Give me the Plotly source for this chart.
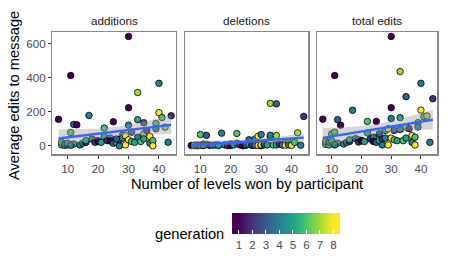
import numpy as np
import plotly.graph_objects as go
import plotly.colors as pc

# ---- data ----
levels = [7, 8, 8, 9, 9, 10, 10, 11, 11, 12, 12, 13, 14, 15, 16, 16, 17, 18, 19, 19,
          20, 20, 21, 22, 22, 23, 24, 24, 25, 25, 26, 27, 27, 28, 28, 29, 29, 30, 30, 30,
          30, 31, 31, 32, 33, 33, 33, 34, 35, 35, 35, 36, 37, 37, 38, 38, 39, 39, 40, 40,
          41, 42, 43, 44, 11, 26]
generation = [1, 5, 6, 6, 3, 6, 5, 1, 6, 3, 5, 1, 4, 4, 2, 5, 4, 4, 6, 2,
              3, 1, 5, 6, 5, 2, 4, 1, 1, 3, 5, 4, 2, 5, 4, 8, 8, 1, 1, 4,
              8, 6, 3, 5, 7, 5, 4, 6, 3, 7, 5, 2, 8, 4, 6, 8, 6, 4, 4, 8,
              6, 7, 4, 2, 4, 3]
additions = [155, 5, 20, 2, 10, 5, 15, 412, 78, 125, 10, 123, 5, 15, 20, 30, 178, 39, 30, 20,
             25, 30, 20, 104, 55, 30, 45, 28, 141, 15, 20, 0, 35, 60, 45, 60, 5, 641, 223, 121,
             35, 25, 80, 20, 312, 153, 50, 25, 135, 70, 40, 90, 55, 15, 30, 0, 131, 100, 366, 194,
             166, 109, 20, 176, 3, 40]
deletions = [2, 1, 3, 0, 5, 66, 3, 2, 10, 61, 8, 3, 3, 5, 4, 2, 74, 5, 3, 2,
             10, 2, 5, 72, 15, 5, 5, 0, 3, 5, 8, 2, 5, 40, 3, 56, 2, 0, 5, 66,
             5, 5, 10, 5, 249, 52, 62, 5, 246, 60, 5, 10, 5, 5, 20, 3, 20, 5, 5, 3,
             20, 76, 3, 172, 2, 35]
total_edits = [156, 8, 25, 5, 20, 70, 30, 412, 80, 153, 15, 121, 10, 20, 25, 35, 208, 42, 35, 22,
               30, 30, 25, 143, 75, 40, 50, 25, 143, 20, 30, 5, 40, 90, 45, 100, 5, 641, 223, 160,
               45, 35, 90, 30, 435, 165, 95, 30, 288, 110, 45, 100, 60, 20, 50, 5, 135, 110, 366, 209,
               170, 175, 20, 276, 5, 70]

facets = ["additions", "deletions", "total edits"]
tick_x = [10, 20, 30, 40]
tick_y = [0, 200, 400, 600]
gen_ticks = [1, 2, 3, 4, 5, 6, 7, 8]

W, H = 449, 269
panels_px = [(52.3, 175.7), (185.0, 308.3), (316.7, 437.3)]
top_px, bot_px = 32.0, 154.3

# viridis spread over 1..8 inside a bar that spans 0.5..8.5 (ends held flat)
vir = pc.sequential.Viridis
lo_f, hi_f = 0.5 / 8, 7.5 / 8
cscale = [[0.0, vir[0]]] + [[lo_f + k / (len(vir) - 1) * (hi_f - lo_f), c] for k, c in enumerate(vir)] + [[1.0, vir[-1]]]

fig = go.Figure()
font = "Liberation Sans, Arial, sans-serif"

series = [additions, deletions, total_edits]
x = np.array(levels, dtype=float)
for i, vals in enumerate(series):
    y = np.array(vals, dtype=float)
    ax = "" if i == 0 else str(i + 1)
    fig.add_trace(go.Scatter(
        x=levels, y=vals, mode="markers", xaxis="x" + ax, yaxis="y" + ax,
        marker=dict(size=6.5, color=generation, colorscale=cscale, cmin=0.5, cmax=8.5,
                    line=dict(color="black", width=0.8),
                    showscale=(i == 0),
                    colorbar=dict(orientation="h", x=286.2 / W, xanchor="center",
                                  y=1 - 213.3 / H, yanchor="top",
                                  len=107.7, lenmode="pixels", thickness=21,
                                  thicknessmode="pixels", xpad=0, ypad=0,
                                  outlinewidth=0, tickvals=gen_ticks,
                                  ticks="inside", ticklen=4, tickcolor="white",
                                  tickfont=dict(size=11.7, color="#4d4d4d", family=font))),
        showlegend=False, hoverinfo="skip"))
    # linear fit with 95% confidence band
    n = len(x)
    b, a = np.polyfit(x, y, 1)
    xs = np.linspace(x.min(), x.max(), 80)
    yhat = a + b * xs
    resid = y - (a + b * x)
    s = np.sqrt(np.sum(resid ** 2) / (n - 2))
    sxx = np.sum((x - x.mean()) ** 2)
    se = s * np.sqrt(1 / n + (xs - x.mean()) ** 2 / sxx)
    tval = 1.998
    lo, hi = yhat - tval * se, yhat + tval * se
    fig.add_trace(go.Scatter(
        x=np.concatenate([xs, xs[::-1]]), y=np.concatenate([hi, lo[::-1]]),
        fill="toself", fillcolor="rgba(153,153,153,0.4)", line=dict(width=0),
        mode="lines", xaxis="x" + ax, yaxis="y" + ax, showlegend=False, hoverinfo="skip"))
    fig.add_trace(go.Scatter(
        x=xs, y=yhat, mode="lines", line=dict(color="#3366FF", width=2.4),
        xaxis="x" + ax, yaxis="y" + ax, showlegend=False, hoverinfo="skip"))

ydom = [1 - bot_px / H, 1 - top_px / H]
layout = dict(template="none", width=W, height=H,
              margin=dict(l=0, r=0, t=0, b=0, pad=0, autoexpand=False),
              paper_bgcolor="white", plot_bgcolor="white", font=dict(family=font),
              hovermode=False)
for i, (l, r) in enumerate(panels_px):
    ax = "" if i == 0 else str(i + 1)
    layout["xaxis" + ax] = dict(domain=[l / W, r / W], range=[4.95, 45.5], anchor="y" + ax,
                                tickvals=tick_x, ticks="outside", ticklen=3, tickcolor="#333333",
                                showline=True, linecolor="#888888", linewidth=1.2, mirror=True,
                                showgrid=False, zeroline=False, automargin=False,
                                tickfont=dict(size=11.7, color="#4d4d4d"))
    layout["yaxis" + ax] = dict(domain=ydom, range=[-50, 667], anchor="x" + ax,
                                tickvals=tick_y, ticks="outside" if i == 0 else "",
                                ticklen=3, tickcolor="#333333",
                                showticklabels=(i == 0),
                                showline=True, linecolor="#888888", linewidth=1.2, mirror=True,
                                showgrid=False, zeroline=False, automargin=False,
                                tickfont=dict(size=11.7, color="#4d4d4d"))
fig.update_layout(**layout)


def note(text, xp, yp, size, color="black", angle=0):
    return dict(text=text, x=xp / W, y=1 - yp / H, xref="paper", yref="paper",
                xanchor="center", yanchor="middle", textangle=angle, showarrow=False,
                font=dict(size=size, color=color))


ann = [note(name, (l + r) / 2, 20, 11.7, "#1a1a1a") for (l, r), name in zip(panels_px, facets)]
ann.append(note("Number of levels won by participant", 247.3, 184, 14.67))
ann.append(note("Average edits to message", 14, 96, 14.67, angle=-90))
ann.append(note("generation", 189, 234, 14.67))
fig.update_layout(annotations=ann)

fig.write_html("out.html", config={"displayModeBar": False, "staticPlot": True},
               post_script="document.body.style.margin='0px';document.body.style.overflow='hidden';")
